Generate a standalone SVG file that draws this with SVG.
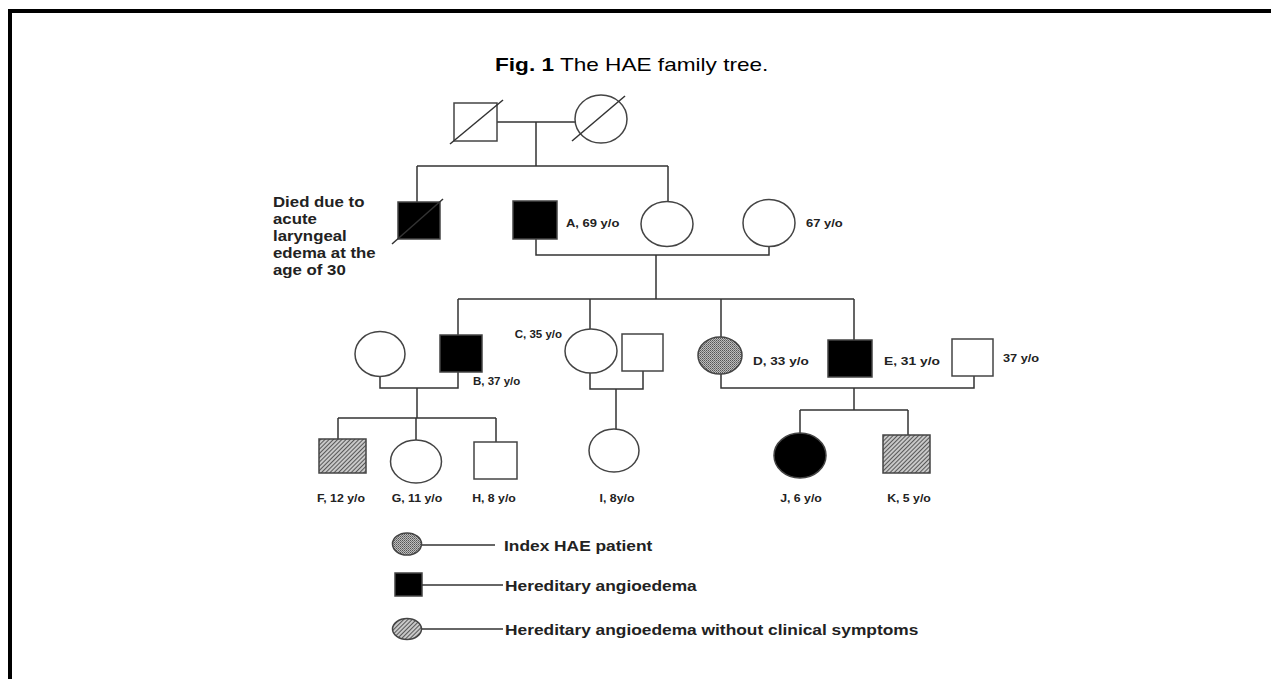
<svg xmlns="http://www.w3.org/2000/svg" width="1271" height="679" viewBox="0 0 1271 679">
<style>
.ln{fill:none;stroke:#333;stroke-width:1.5}
.sh{stroke:#444;stroke-width:1.5}
.open{fill:#fff}
.blk{fill:#000}
.hat{fill:url(#hatch)}
.dot{fill:url(#dots)}
text{font-family:"Liberation Sans",Arial,sans-serif;fill:#222}
.lbl{font-weight:bold;font-size:11px}
.sm{font-weight:bold;font-size:10px}
.md{font-weight:bold;font-size:11.5px}
.big{font-weight:bold;font-size:14px}
.title{font-size:19px;fill:#000}
</style>
<defs>
<pattern id="hatch" width="3" height="3" patternUnits="userSpaceOnUse" patternTransform="rotate(45)">
<rect width="3" height="3" fill="#c8c8c8"/>
<line x1="0" y1="0" x2="0" y2="3" stroke="#3a3a3a" stroke-width="1.6"/>
</pattern>
<pattern id="dots" width="2" height="2" patternUnits="userSpaceOnUse">
<rect width="2" height="2" fill="#bdbdbd"/>
<rect width="1" height="1" fill="#555"/>
<rect x="1" y="1" width="1" height="1" fill="#777"/>
</pattern>
</defs>
<rect width="1271" height="679" fill="#fff"/>
<path d="M10 679 V11 H1271" fill="none" stroke="#000" stroke-width="4"/>
<text class="title" transform="translate(495 71) scale(1.19 1)"><tspan font-weight="bold">Fig. 1</tspan>  The HAE family tree.</text>

<g id="connectors">
<path class="ln" d="M497 122 H575 M536 122 V166 M417 166 H668 M417 166 V202 M668 166 V202"/>
<path class="ln" d="M536 239 V255 H769 V246 M656 255 V299 M458 299 H854 M458 299 V335 M590 299 V329 M721 299 V337 M854 299 V340"/>
<path class="ln" d="M380 376 V388 H458 V372 M417 388 V418 M338 418 H496 M338 418 V439 M416 418 V440 M496 418 V442"/>
<path class="ln" d="M590 373 V389 H643 V371 M616 389 V429"/>
<path class="ln" d="M721 374 V388 H974 V376 M854 388 V410 M800 410 H908 M800 410 V433 M908 410 V435"/>
</g>

<g id="grandfather"><rect class="sh open" x="454" y="103" width="43" height="38"/><line class="ln" x1="450" y1="144" x2="503" y2="100"/></g>
<g id="grandmother"><ellipse class="sh open" cx="601" cy="119" rx="26" ry="24"/><line class="ln" x1="572" y1="141" x2="625" y2="96"/></g>

<g id="died-son"><rect class="sh blk" x="398" y="202" width="42" height="37"/><line class="ln" x1="392" y1="244" x2="443" y2="199"/>
<text class="big" transform="translate(273 0) scale(1.2 1)"><tspan x="0" y="207">Died due to</tspan><tspan x="0" y="224">acute</tspan><tspan x="0" y="241">laryngeal</tspan><tspan x="0" y="258">edema at the</tspan><tspan x="0" y="275">age of 30</tspan></text></g>
<g id="A"><rect class="sh blk" x="513" y="201" width="44" height="38"/><text class="lbl" transform="translate(566 227) scale(1.18 1)">A, 69 y/o</text></g>
<g id="daughter2"><ellipse class="sh open" cx="667" cy="224" rx="26" ry="22.5"/></g>
<g id="A-spouse"><ellipse class="sh open" cx="769" cy="223" rx="26" ry="23.5"/><text class="lbl" transform="translate(806 227) scale(1.18 1)">67 y/o</text></g>

<g id="B-spouse"><ellipse class="sh open" cx="380" cy="354" rx="25" ry="22.5"/></g>
<g id="B"><rect class="sh blk" x="440" y="335" width="42" height="37"/><text class="sm" transform="translate(473 385) scale(1.15 1)">B, 37 y/o</text></g>
<g id="C"><ellipse class="sh open" cx="591" cy="351" rx="26" ry="22"/><text class="sm" text-anchor="end" transform="translate(562 338) scale(1.15 1)">C, 35 y/o</text></g>
<g id="C-spouse"><rect class="sh open" x="622" y="334" width="41" height="37"/></g>
<g id="D"><ellipse class="sh dot" cx="720" cy="355.5" rx="22" ry="18.5"/><text class="md" transform="translate(753 365) scale(1.18 1)">D, 33 y/o</text></g>
<g id="E"><rect class="sh blk" x="828" y="340" width="44" height="37"/><text class="md" transform="translate(884 365) scale(1.2 1)">E, 31 y/o</text></g>
<g id="E-spouse"><rect class="sh open" x="952" y="339" width="41" height="37"/><text class="lbl" transform="translate(1003 362) scale(1.16 1)">37 y/o</text></g>

<g id="F"><rect class="sh hat" x="319" y="439" width="47" height="34"/><text class="lbl" text-anchor="middle" transform="translate(341 502) scale(1.12 1)">F, 12 y/o</text></g>
<g id="G"><ellipse class="sh open" cx="416" cy="461.5" rx="25.5" ry="21.5"/><text class="lbl" text-anchor="middle" transform="translate(417 502) scale(1.12 1)">G, 11 y/o</text></g>
<g id="H"><rect class="sh open" x="474" y="442" width="43" height="37"/><text class="lbl" text-anchor="middle" transform="translate(494 502) scale(1.12 1)">H, 8 y/o</text></g>
<g id="I"><ellipse class="sh open" cx="614" cy="450.5" rx="25" ry="21.5"/><text class="lbl" text-anchor="middle" transform="translate(617 502) scale(1.12 1)">I, 8y/o</text></g>
<g id="J"><ellipse class="sh blk" cx="800" cy="455.5" rx="26" ry="22.5"/><text class="lbl" text-anchor="middle" transform="translate(801 502) scale(1.12 1)">J, 6 y/o</text></g>
<g id="K"><rect class="sh hat" x="883" y="435" width="47" height="38"/><text class="lbl" text-anchor="middle" transform="translate(909 502) scale(1.12 1)">K, 5 y/o</text></g>

<g id="legend">
<ellipse class="sh dot" cx="407" cy="544" rx="14.5" ry="11"/><line class="ln" x1="422" y1="545" x2="495" y2="545"/><text class="big" transform="translate(504 551) scale(1.24 1)">Index HAE patient</text>
<rect class="sh blk" x="395" y="573" width="27" height="23"/><line class="ln" x1="422" y1="585" x2="503" y2="585"/><text class="big" transform="translate(505 591) scale(1.24 1)">Hereditary angioedema</text>
<ellipse class="sh hat" cx="407" cy="629" rx="14.5" ry="10.5"/><line class="ln" x1="422" y1="629" x2="503" y2="629"/><text class="big" transform="translate(505 635) scale(1.24 1)">Hereditary angioedema without clinical symptoms</text>
</g>
</svg>
